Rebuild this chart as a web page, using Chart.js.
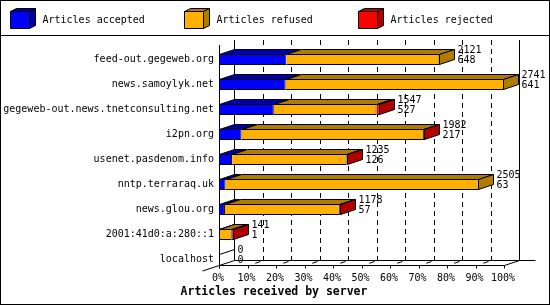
<!DOCTYPE html>
<html>
<head>
<meta charset="UTF-8">
<title>Articles received by server</title>
<script src="https://cdn.jsdelivr.net/npm/chart.js@4.4.0/dist/chart.umd.min.js"></script>
<style>
  body { margin: 0; background: #fff; }
  canvas { display: block; }
</style>
</head>
<body>
<canvas id="myChart" width="550" height="305"></canvas>
<script>
// data
const servers = [
  'feed-out.gegeweb.org',
  'news.samoylyk.net',
  'gegeweb-out.news.tnetconsulting.net',
  'i2pn.org',
  'usenet.pasdenom.info',
  'nntp.terraraq.uk',
  'news.glou.org',
  '2001:41d0:a:280::1',
  'localhost'
];
const accepted = [648, 641, 527, 217, 126, 63, 57, 1, 0];
const refused  = [1473, 2100, 988, 1756, 1101, 2442, 1105, 121, 0];
const rejected = [0, 0, 32, 9, 8, 0, 16, 19, 0];
const seriesLabels = ['Articles accepted', 'Articles refused', 'Articles rejected'];
const tickPercents = [0, 10, 20, 30, 40, 50, 60, 70, 80, 90, 100];
const axisTitle = 'Articles received by server';

const frontColours = ['#0000ff', '#ffb000', '#ff0000'];
const shadeColours = ['#0000a8', '#b07c00', '#b00000'];

const totals = servers.map((s, i) => accepted[i] + refused[i] + rejected[i]);
const maxTotal = Math.max(...totals);

const DX = 15, DY = 5;        // depth of the 3d bars
const BAR_H = 11;
const MONO = "'DejaVu Sans Mono', 'Liberation Mono', monospace";

function seg(ctx, x1, y1, x2, y2, dash) {
    ctx.save();
    ctx.setLineDash(dash || []);
    ctx.beginPath();
    ctx.moveTo(x1, y1);
    ctx.lineTo(x2, y2);
    ctx.stroke();
    ctx.restore();
}

function poly(ctx, pts, fill) {
    ctx.beginPath();
    ctx.moveTo(pts[0][0], pts[0][1]);
    for (let i = 1; i < pts.length; i++) ctx.lineTo(pts[i][0], pts[i][1]);
    ctx.closePath();
    ctx.fillStyle = fill;
    ctx.fill();
    ctx.stroke();
}

const crisp = v => Math.round(v) + 0.5;

const frame3d = {
    id: 'frame3d',
    beforeDraw(chart) {
        const ctx = chart.ctx;
        ctx.save();
        ctx.fillStyle = '#fff';
        ctx.fillRect(0, 0, chart.width, chart.height);
        ctx.restore();
    },
    beforeDatasetsDraw(chart) {
        const ctx = chart.ctx, xs = chart.scales.x, ys = chart.scales.y;
        const area = chart.chartArea;
        const frontTop = area.top - 2;
        const floorY = crisp(ys.getPixelForValue(servers.length - 1) + BAR_H / 2 - 0.5);
        const backFloor = floorY - DY, backTop = frontTop - DY;
        const x0 = crisp(xs.getPixelForValue(0)), x100 = crisp(xs.getPixelForValue(maxTotal));

        ctx.save();
        ctx.strokeStyle = '#000';
        ctx.lineWidth = 1;

        // back wall grid
        tickPercents.forEach(p => {
            const bx = crisp(xs.getPixelForValue(maxTotal * p / 100)) + DX;
            const dash = (p === 0 || p === 100) ? [] : [5, 4];
            seg(ctx, bx, backTop, bx, backFloor, dash);
        });

        // floor
        seg(ctx, x0 + DX, backFloor, x100 + DX + 16, backFloor);
        seg(ctx, x0, floorY, x100, floorY);
        seg(ctx, x100, floorY, x100 + DX, backFloor);
        seg(ctx, x0 - DX - 2, floorY + DY + 0.5, x0 + DX, backFloor);

        // ticks and floor marks
        tickPercents.forEach(p => {
            const fx = crisp(xs.getPixelForValue(maxTotal * p / 100));
            seg(ctx, fx, floorY, fx, floorY + 3);
            if (p > 0 && p < 100) {
                seg(ctx, fx + DX * 0.45, floorY - DY * 0.45, fx + DX * 0.8, floorY - DY * 0.8);
            }
        });

        // tick labels
        ctx.fillStyle = '#000';
        ctx.font = '10px ' + MONO;
        ctx.textAlign = 'center';
        ctx.textBaseline = 'middle';
        tickPercents.forEach(p => {
            const fx = xs.getPixelForValue(maxTotal * p / 100);
            ctx.fillText(p + '%', fx - 1, floorY + 13);
        });

        // category labels
        ctx.textAlign = 'right';
        servers.forEach((s, i) => {
            ctx.fillText(s, x0 - 5.5, ys.getPixelForValue(i));
        });
        ctx.restore();
    },
    afterDatasetsDraw(chart) {
        const ctx = chart.ctx, xs = chart.scales.x, ys = chart.scales.y;
        const area = chart.chartArea;
        const frontTop = area.top - 2;
        const floorY = crisp(ys.getPixelForValue(servers.length - 1) + BAR_H / 2 - 0.5);
        const x0 = crisp(xs.getPixelForValue(0));
        const metas = chart.data.datasets.map((d, k) => chart.getDatasetMeta(k));

        ctx.save();
        ctx.strokeStyle = '#000';
        ctx.lineWidth = 1;

        servers.forEach((s, i) => {
            let lastK = -1, lastRight = x0, top = 0, bottom = 0;
            metas.forEach((meta, k) => {
                const bar = meta.data[i].getProps(['x', 'base', 'y', 'height'], true);
                top = crisp(bar.y - bar.height / 2);
                bottom = Math.round(bar.y + bar.height / 2) - 0.5;
                if (chart.data.datasets[k].data[i] <= 0) return;
                const left = crisp(bar.base);
                const right = Math.max(left, Math.round(bar.x) - 0.5);
                poly(ctx, [[left, top], [right, top], [right + DX, top - DY], [left + DX, top - DY]], shadeColours[k]);
                lastK = k;
                lastRight = right;
            });
            if (lastK >= 0) {
                poly(ctx, [[lastRight, top], [lastRight + DX, top - DY], [lastRight + DX, bottom - DY], [lastRight, bottom]], shadeColours[lastK]);
            } else {
                seg(ctx, x0, top, x0 + DX, top - DY);
            }

            // value labels: total and accepted
            const cy = ys.getPixelForValue(i);
            ctx.fillStyle = '#000';
            ctx.font = '10px ' + MONO;
            ctx.textAlign = 'left';
            ctx.textBaseline = 'middle';
            ctx.fillText(String(totals[i]), lastRight + DX + 3, cy - 9.5);
            ctx.fillText(String(accepted[i]), lastRight + DX + 3, cy + 1);
        });

        // front left axis
        seg(ctx, x0, frontTop, x0, floorY + 3);
        ctx.restore();
    },
    afterDraw(chart) {
        const ctx = chart.ctx;
        ctx.save();
        ctx.strokeStyle = '#000';
        ctx.lineWidth = 1;

        // legend with little cubes
        ctx.font = '10px ' + MONO;
        ctx.textAlign = 'left';
        ctx.textBaseline = 'middle';
        chart.data.datasets.forEach((d, k) => {
            const bx = 10.5 + Math.round(k * 173.8);
            const by = 11.5, w = 19, h = 17, dx = 6, dy = 3;
            poly(ctx, [[bx, by], [bx + w, by], [bx + w + dx, by - dy], [bx + dx, by - dy]], shadeColours[k]);
            poly(ctx, [[bx + w, by], [bx + w + dx, by - dy], [bx + w + dx, by + h - dy], [bx + w, by + h]], shadeColours[k]);
            poly(ctx, [[bx, by], [bx + w, by], [bx + w, by + h], [bx, by + h]], frontColours[k]);
            ctx.fillStyle = '#000';
            ctx.fillText(d.label, bx + 32, 20);
        });
        seg(ctx, 0, 35.5, chart.width, 35.5);

        // axis title
        ctx.fillStyle = '#000';
        ctx.font = 'bold 11.5px ' + MONO;
        ctx.textAlign = 'center';
        ctx.fillText(axisTitle, 274, 292);

        ctx.strokeRect(0.5, 0.5, chart.width - 1, chart.height - 1);
        ctx.restore();
    }
};

const ctx = document.getElementById('myChart').getContext('2d');
const chart = new Chart(ctx, {
    type: 'bar',
    data: {
        labels: servers,
        datasets: [accepted, refused, rejected].map((values, k) => ({
            label: seriesLabels[k],
            data: values,
            backgroundColor: frontColours[k],
            borderColor: '#000',
            borderWidth: 1,
            borderSkipped: 'start',
            inflateAmount: 0,
            barThickness: BAR_H
        }))
    },
    options: {
        indexAxis: 'y',
        responsive: false,
        animation: false,
        devicePixelRatio: 1,
        layout: { padding: { left: 219, right: 46, top: 47, bottom: 33 } },
        scales: {
            x: { stacked: true, min: 0, max: maxTotal, display: false },
            y: { stacked: true, display: false }
        },
        plugins: {
            legend: { display: false },
            title: { display: false },
            tooltip: { enabled: false }
        }
    },
    plugins: [frame3d]
});
</script>
</body>
</html>
